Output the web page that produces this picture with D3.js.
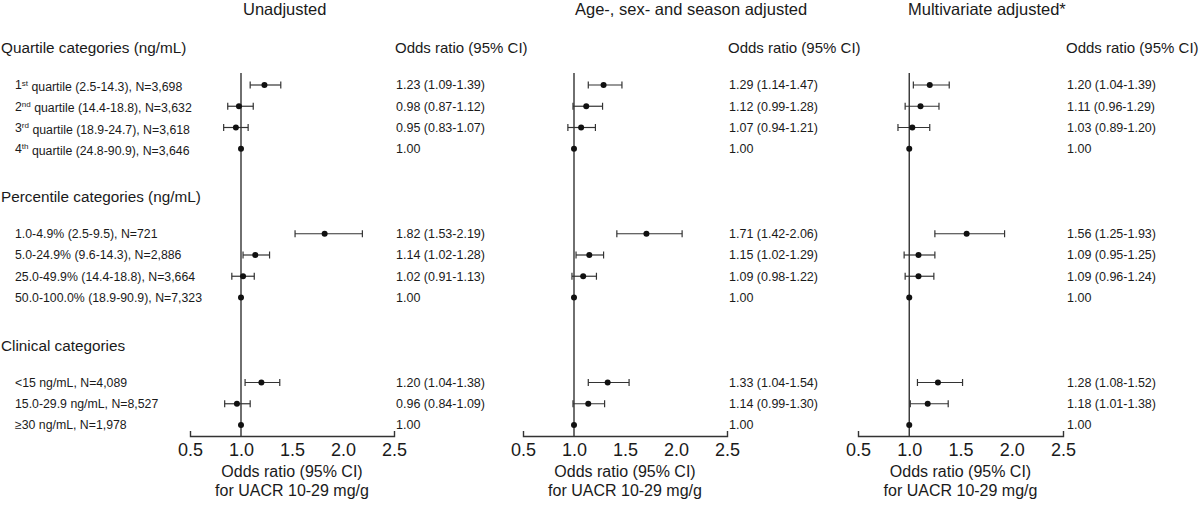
<!DOCTYPE html>
<html>
<head>
<meta charset="utf-8">
<script src="https://cdn.jsdelivr.net/npm/d3@7"></script>
<style>
  html, body { margin: 0; padding: 0; background: #fff; }
  svg { display: block; font-family: "Liberation Sans", Arial, sans-serif; }
  text { fill: #1a1a1a; }
</style>
</head>
<body>
<svg id="chart" width="1200" height="505"></svg>
<script>
// ---------- DATA ----------
const panelTitles = ["Unadjusted", "Age-, sex- and season adjusted", "Multivariate adjusted*"];
const sectionTitles = ["Quartile categories (ng/mL)", "Percentile categories (ng/mL)", "Clinical categories"];
// row labels: [base, superscript, rest]
const rowLabels = [
  ["1", "st", " quartile (2.5-14.3), N=3,698"],
  ["2", "nd", " quartile (14.4-18.8), N=3,632"],
  ["3", "rd", " quartile (18.9-24.7), N=3,618"],
  ["4", "th", " quartile (24.8-90.9), N=3,646"],
  ["1.0-4.9% (2.5-9.5), N=721", "", ""],
  ["5.0-24.9% (9.6-14.3), N=2,886", "", ""],
  ["25.0-49.9% (14.4-18.8), N=3,664", "", ""],
  ["50.0-100.0% (18.9-90.9), N=7,323", "", ""],
  ["<15 ng/mL, N=4,089", "", ""],
  ["15.0-29.9 ng/mL, N=8,527", "", ""],
  ["\u226530 ng/mL, N=1,978", "", ""]
];

// Unadjusted
const or1 = [1.23, 0.98, 0.95, 1.00, 1.82, 1.14, 1.02, 1.00, 1.20, 0.96, 1.00];
const lo1 = [1.09, 0.87, 0.83, 1.00, 1.53, 1.02, 0.91, 1.00, 1.04, 0.84, 1.00];
const hi1 = [1.39, 1.12, 1.07, 1.00, 2.19, 1.28, 1.13, 1.00, 1.38, 1.09, 1.00];
const txt1 = ["1.23 (1.09-1.39)", "0.98 (0.87-1.12)", "0.95 (0.83-1.07)", "1.00",
              "1.82 (1.53-2.19)", "1.14 (1.02-1.28)", "1.02 (0.91-1.13)", "1.00",
              "1.20 (1.04-1.38)", "0.96 (0.84-1.09)", "1.00"];
// Age-, sex- and season adjusted
const or2 = [1.29, 1.12, 1.07, 1.00, 1.71, 1.15, 1.09, 1.00, 1.33, 1.14, 1.00];
const lo2 = [1.14, 0.99, 0.94, 1.00, 1.42, 1.02, 0.98, 1.00, 1.14, 0.99, 1.00];
const hi2 = [1.47, 1.28, 1.21, 1.00, 2.06, 1.29, 1.22, 1.00, 1.54, 1.30, 1.00];
const txt2 = ["1.29 (1.14-1.47)", "1.12 (0.99-1.28)", "1.07 (0.94-1.21)", "1.00",
              "1.71 (1.42-2.06)", "1.15 (1.02-1.29)", "1.09 (0.98-1.22)", "1.00",
              "1.33 (1.04-1.54)", "1.14 (0.99-1.30)", "1.00"];
// Multivariate adjusted
const or3 = [1.20, 1.11, 1.03, 1.00, 1.56, 1.09, 1.09, 1.00, 1.28, 1.18, 1.00];
const lo3 = [1.04, 0.96, 0.89, 1.00, 1.25, 0.95, 0.96, 1.00, 1.08, 1.01, 1.00];
const hi3 = [1.39, 1.29, 1.20, 1.00, 1.93, 1.25, 1.24, 1.00, 1.52, 1.38, 1.00];
const txt3 = ["1.20 (1.04-1.39)", "1.11 (0.96-1.29)", "1.03 (0.89-1.20)", "1.00",
              "1.56 (1.25-1.93)", "1.09 (0.95-1.25)", "1.09 (0.96-1.24)", "1.00",
              "1.28 (1.08-1.52)", "1.18 (1.01-1.38)", "1.00"];

const xTicks = [0.5, 1.0, 1.5, 2.0, 2.5];
const xDomain = [0.5, 2.5];
const refValue = 1.0;
const colHeader = "Odds ratio (95% CI)";
const axisTitle = ["Odds ratio (95% CI)", "for UACR 10-29 mg/g"];

// ---------- LAYOUT ----------
const svg = d3.select("#chart");
const ink = "#1a1a1a";
const lineCol = "#333";

// row slots: 4 quartile, 3 gap, 4 percentile, 3 gap, 3 clinical
const slotIndex = [0,1,2,3, 7,8,9,10, 14,15,16];
const y = d3.scaleLinear().domain([0, 16]).range([85, 425]);
const sectionY = [0, 7, 14].map(s => y(s) - 37);

const panels = [
  {title: panelTitles[0], titleX: 243, range: [190, 394], textX: 396, or: or1, lo: lo1, hi: hi1, txt: txt1},
  {title: panelTitles[1], titleX: 575, range: [523, 727], textX: 729, or: or2, lo: lo2, hi: hi2, txt: txt2},
  {title: panelTitles[2], titleX: 908, range: [858, 1063], textX: 1067, or: or3, lo: lo3, hi: hi3, txt: txt3}
];
const axisY = 436;
const refTop = 73;

// Section headers
svg.selectAll("text.section").data(sectionTitles).join("text")
  .attr("class", "section")
  .attr("x", 1).attr("y", (d, i) => sectionY[i])
  .attr("dy", "0.35em")
  .style("font-size", "15.3px")
  .text(d => d);

// Row labels
const rl = svg.selectAll("text.rowlab").data(rowLabels).join("text")
  .attr("class", "rowlab")
  .attr("x", 15).attr("y", (d, i) => y(slotIndex[i]))
  .attr("dy", "0.35em")
  .style("font-size", "12.3px");
rl.each(function(d) {
  const t = d3.select(this);
  t.append("tspan").text(d[0]);
  if (d[1]) {
    t.append("tspan").attr("dy", "-0.45em").style("font-size", "8px").text(d[1]);
    t.append("tspan").attr("dy", "0.45em").text(d[2]);
  }
});

panels.forEach(p => {
  const x = d3.scaleLinear().domain(xDomain).range(p.range);
  const g = svg.append("g");

  // panel title
  g.append("text").attr("x", p.titleX).attr("y", 15)
    .style("font-size", "16.5px").text(p.title);

  // column header
  g.append("text").attr("x", p.textX - 1).attr("y", sectionY[0])
    .attr("dy", "0.35em").style("font-size", "15px").text(colHeader);

  // x axis
  const axis = d3.axisBottom(x).tickValues(xTicks).tickFormat(d3.format(".1f"))
    .tickSizeInner(0).tickSizeOuter(-5).tickPadding(7);
  const ag = g.append("g").attr("transform", `translate(0,${axisY})`).call(axis);
  ag.select(".domain").attr("stroke", lineCol).attr("stroke-width", 1.4);
  ag.selectAll(".tick text").style("font-size", "18px").attr("fill", ink)
    .style("font-family", "'Liberation Sans', Arial, sans-serif");

  // reference line
  g.append("line").attr("x1", x(refValue)).attr("x2", x(refValue))
    .attr("y1", refTop).attr("y2", axisY)
    .attr("stroke", lineCol).attr("stroke-width", 1.4);

  // axis title
  g.selectAll("text.atitle").data(axisTitle).join("text")
    .attr("class", "atitle")
    .attr("x", (p.range[0] + p.range[1]) / 2)
    .attr("y", (d, i) => 471 + i * 19)
    .attr("dy", "0.35em")
    .attr("text-anchor", "middle")
    .style("font-size", "16px")
    .text(d => d);

  const idx = d3.range(p.or.length);
  // CI lines
  g.selectAll("line.ci").data(idx).join("line").attr("class", "ci")
    .attr("x1", i => x(p.lo[i])).attr("x2", i => x(p.hi[i]))
    .attr("y1", i => y(slotIndex[i])).attr("y2", i => y(slotIndex[i]))
    .attr("stroke", lineCol).attr("stroke-width", 1.2);
  // caps
  ["lo", "hi"].forEach(k => {
    g.selectAll("line.cap" + k).data(idx.filter(i => p.lo[i] !== p.hi[i])).join("line")
      .attr("class", "cap" + k)
      .attr("x1", i => x(p[k][i])).attr("x2", i => x(p[k][i]))
      .attr("y1", i => y(slotIndex[i]) - 3.5).attr("y2", i => y(slotIndex[i]) + 3.5)
      .attr("stroke", lineCol).attr("stroke-width", 1.2);
  });
  // points
  g.selectAll("circle.pt").data(idx).join("circle").attr("class", "pt")
    .attr("cx", i => x(p.or[i])).attr("cy", i => y(slotIndex[i]))
    .attr("r", 3).attr("fill", "#111");

  // OR text
  g.selectAll("text.ortxt").data(p.txt).join("text").attr("class", "ortxt")
    .attr("x", p.textX).attr("y", (d, i) => y(slotIndex[i]))
    .attr("dy", "0.35em").style("font-size", "12.5px").text(d => d);
});
</script>
</body>
</html>
